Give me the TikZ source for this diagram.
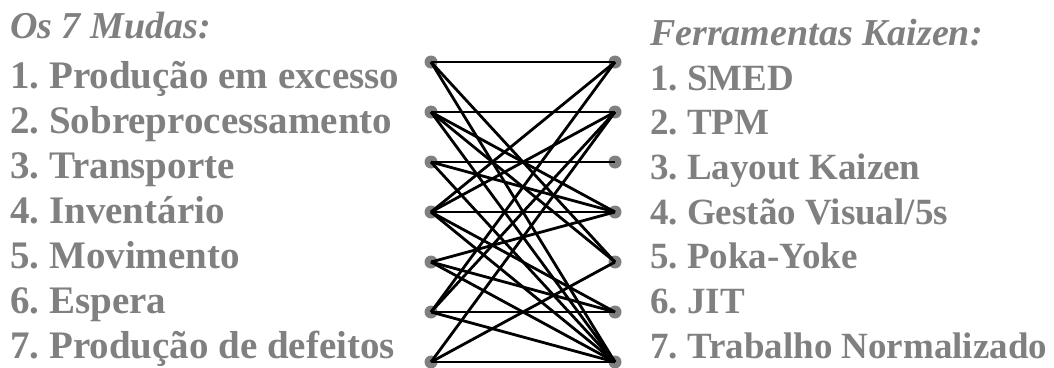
\documentclass[tikz,border=0pt]{standalone}
\usepackage{fontspec}
\setmainfont{Liberation Serif}
\definecolor{txtgray}{RGB}{128,128,128}
\frenchspacing
\begin{document}
\begin{tikzpicture}[x=1pt,y=-1pt,
    item/.style={anchor=base west, inner sep=0pt, text=txtgray, font=\fontsize{39}{40}\selectfont\bfseries},
    tool/.style={item, font=\fontsize{37}{40}\selectfont\bfseries},
    head/.style={item, font=\fontsize{38}{40}\selectfont\bfseries\itshape},
    dot/.style={circle, fill=txtgray, inner sep=0pt, minimum size=13pt},
    link/.style={line width=2.8pt}]
    \useasboundingbox (0,0) rectangle (1054,367);
    \node[head] (mudas) at (10,38) {Os 7 Mudas:};
    \node[head] (ferr) at (650,45) {Ferramentas Kaizen:};
    \foreach \t [count=\i] in {Produção em excesso, Sobreprocessamento, Transporte,
        Inventário, Movimento, Espera, Produção de defeitos}
        \node[item] (m\i) at (10,{43+45*\i}) {\i. \t};
    \foreach \t [count=\i] in {SMED, TPM, Layout Kaizen, Gestão Visual/5s,
        Poka-Yoke, JIT, Trabalho Normalizado}
        \node[tool] (f\i) at (650,{45.3+44.7*\i}) {\i. \t};
    \foreach \i in {1,...,7} {
        \node[dot] (L\i) at (431,{12+50*\i}) {};
        \node[dot] (R\i) at (615,{12+50*\i}) {};
    }
    % mudas -> ferramentas
    \foreach \a/\b in {1/1,1/5,1/7, 2/2,2/4,2/5,2/7, 3/3,3/4,3/7,
        4/1,4/2,4/4,4/6,4/7, 5/4,5/6,5/7, 6/1,6/2,6/6,6/7, 7/2,7/5,7/7}
        \draw[link] (L\a.center) -- (R\b.center);
\end{tikzpicture}
\end{document}
